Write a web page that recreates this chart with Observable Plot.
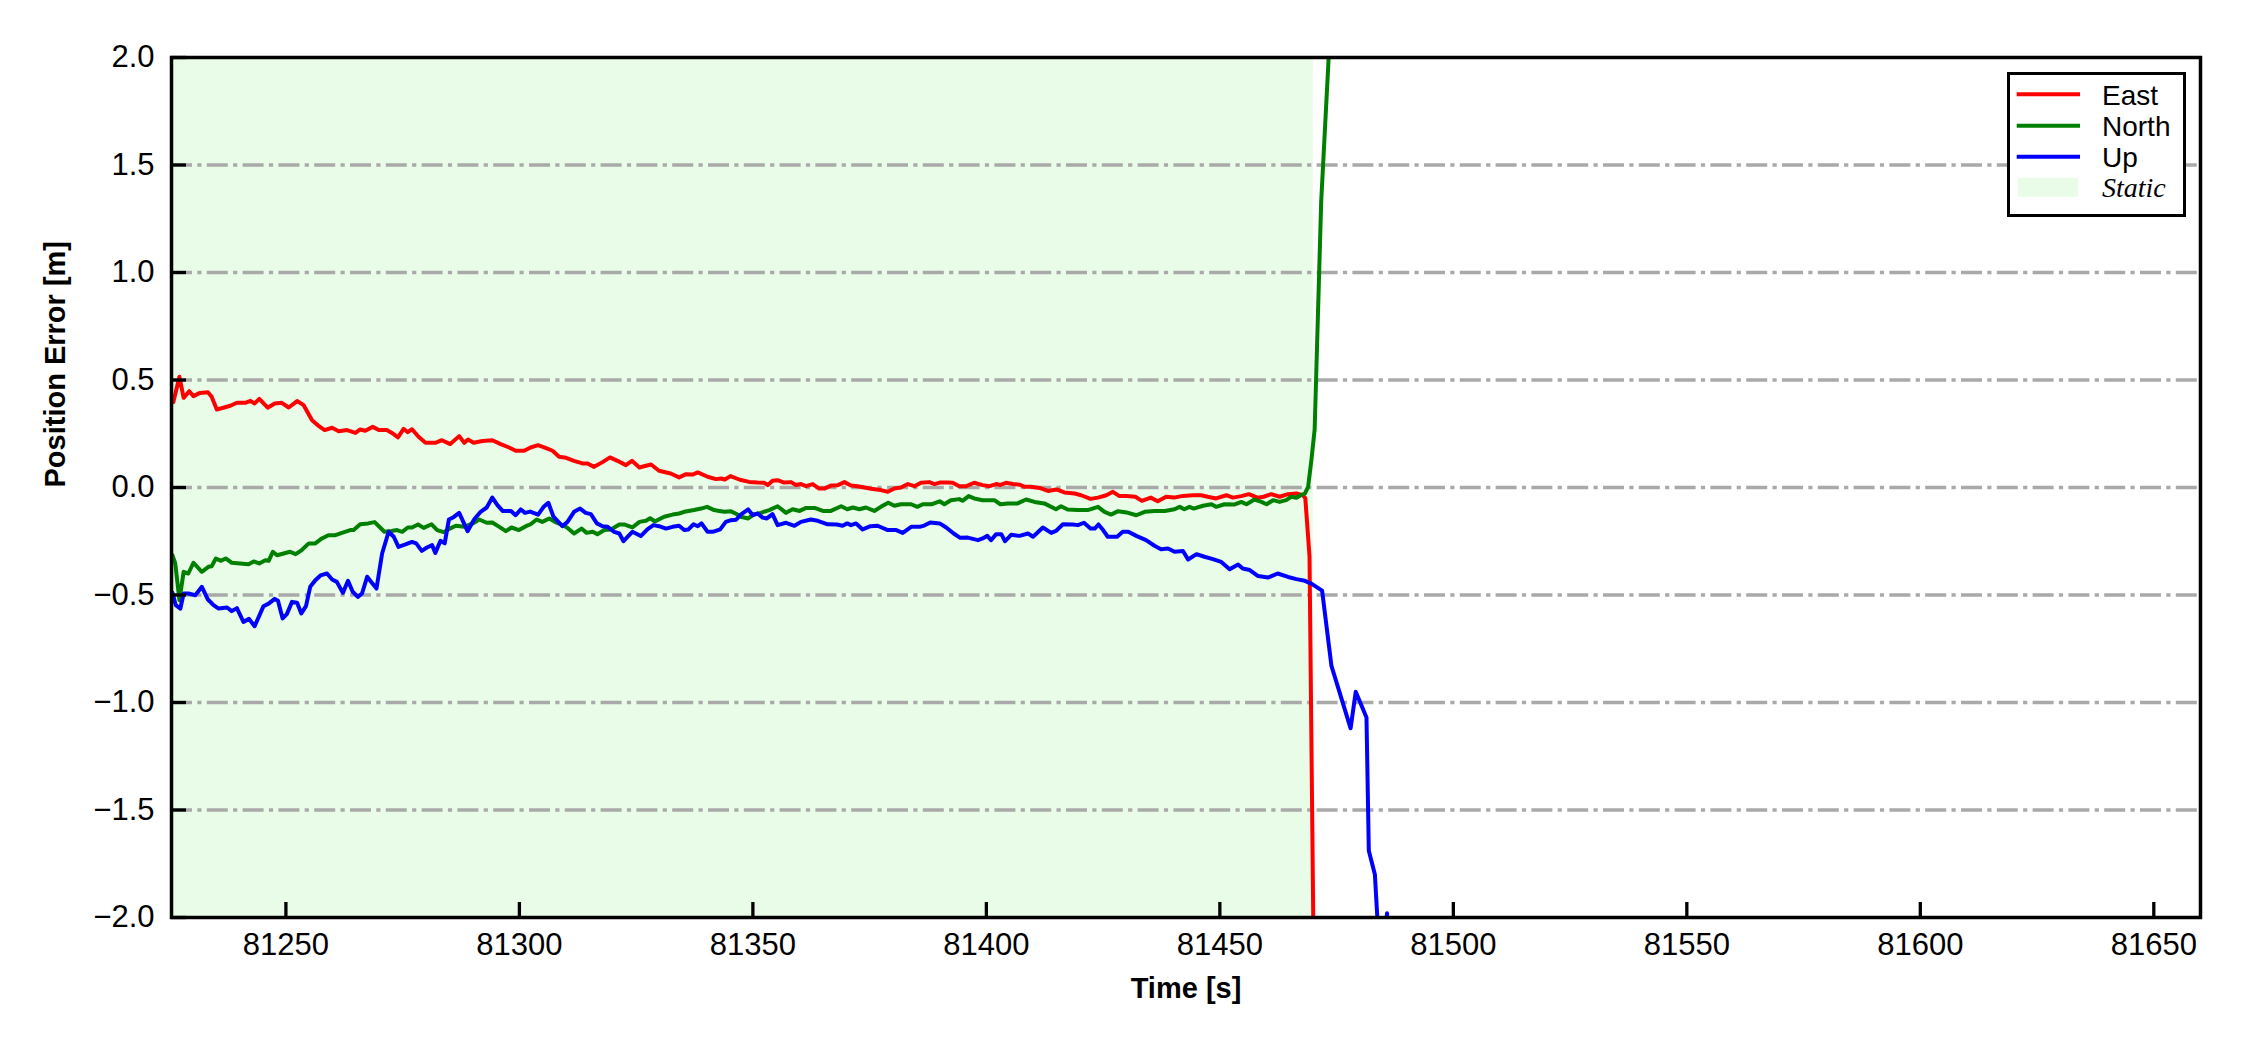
<!DOCTYPE html>
<html>
<head>
<meta charset="utf-8">
<script src="https://cdn.jsdelivr.net/npm/d3@7"></script>
<script src="https://cdn.jsdelivr.net/npm/@observablehq/plot@0.6"></script>
<style>
  html, body { margin: 0; padding: 0; background: white; }
  #wrap { position: relative; width: 2250px; height: 1050px; }
  #legend { position: absolute; left: 2007px; top: 72px; width: 173px; height: 139px; border: 3px solid black; background: white; }
</style>
</head>
<body>
<div id="wrap"></div>
<script>
// ---- data (time [s], error [m]) ----
const seriesNames = ["East", "North", "Up"];
const seriesColors = ["#ff0000", "#008000", "#0000ff"];
const staticLabel = "Static";
const staticColor = "#e8fce8";
const staticStart = 81225.5;
const staticEnd = 81470.0;
const xDomain = [81225.5, 81660];
const yDomain = [-2, 2];
const xTicks = [81250, 81300, 81350, 81400, 81450, 81500, 81550, 81600, 81650];
const yTicks = [-2.0, -1.5, -1.0, -0.5, 0.0, 0.5, 1.0, 1.5, 2.0];
const gridTicks = [-1.5, -1.0, -0.5, 0.0, 0.5, 1.0, 1.5];

const east = [[81225.5,0.40],[81225.9,0.398],[81227.2,0.515],[81228.1,0.417],[81229.3,0.448],[81230.2,0.425],[81231.6,0.440],[81233.3,0.443],[81234.1,0.422],[81235.2,0.363],[81236.6,0.371],[81238.1,0.380],[81239.5,0.394],[81241.3,0.394],[81242.4,0.403],[81243.3,0.391],[81244.3,0.412],[81246.1,0.371],[81247.6,0.391],[81249.1,0.394],[81250.6,0.372],[81252.4,0.402],[81253.8,0.383],[81255.6,0.313],[81256.9,0.288],[81258.3,0.267],[81259.9,0.278],[81261.3,0.262],[81263.1,0.267],[81264.9,0.254],[81265.9,0.270],[81267.0,0.264],[81268.6,0.282],[81269.9,0.267],[81271.6,0.267],[81272.7,0.254],[81274.0,0.233],[81275.2,0.273],[81276.1,0.257],[81277.0,0.271],[81278.4,0.236],[81279.9,0.208],[81282.0,0.208],[81283.4,0.220],[81285.2,0.202],[81287.1,0.239],[81288.2,0.208],[81289.0,0.223],[81290.2,0.208],[81292.1,0.216],[81294.2,0.220],[81296.0,0.202],[81297.8,0.186],[81299.2,0.171],[81301.0,0.171],[81302.4,0.186],[81304.0,0.197],[81306.0,0.181],[81307.1,0.171],[81308.5,0.143],[81310.0,0.138],[81311.7,0.124],[81313.5,0.112],[81314.6,0.112],[81316.0,0.096],[81317.8,0.118],[81319.4,0.140],[81321.0,0.124],[81322.8,0.104],[81324.1,0.124],[81325.7,0.093],[81326.7,0.099],[81328.2,0.107],[81329.9,0.078],[81332.4,0.065],[81334.2,0.047],[81335.7,0.062],[81337.1,0.060],[81338.2,0.070],[81340.3,0.050],[81342.1,0.039],[81343.2,0.042],[81344.0,0.037],[81345.2,0.053],[81347.2,0.036],[81349.2,0.026],[81351.0,0.023],[81352.4,0.022],[81353.2,0.012],[81354.2,0.031],[81355.3,0.034],[81356.7,0.023],[81358.2,0.025],[81359.2,0.012],[81360.3,0.016],[81361.4,0.006],[81362.8,0.016],[81364.2,-0.005],[81365.3,-0.005],[81366.7,0.009],[81368.2,0.011],[81369.6,0.025],[81371.0,0.009],[81372.4,0.006],[81373.9,0.0],[81375.3,-0.006],[81377.4,-0.012],[81378.9,-0.020],[81380.3,-0.005],[81381.7,0.0],[81383.2,0.016],[81384.6,0.006],[81386.0,0.022],[81387.8,0.025],[81388.9,0.016],[81390.0,0.023],[81391.7,0.023],[81392.8,0.022],[81394.2,0.006],[81395.7,0.006],[81397.4,0.022],[81399.2,0.011],[81400.7,0.006],[81402.1,0.016],[81403.0,0.012],[81404.2,0.022],[81405.7,0.016],[81407.2,0.013],[81408.2,0.003],[81409.6,0.003],[81411.4,-0.002],[81413.2,-0.016],[81415.0,-0.009],[81416.7,-0.023],[81418.9,-0.028],[81420.3,-0.036],[81422.3,-0.053],[81423.9,-0.047],[81425.7,-0.036],[81427.1,-0.020],[81428.5,-0.040],[81430.0,-0.039],[81431.9,-0.043],[81433.3,-0.062],[81435.2,-0.047],[81436.7,-0.064],[81438.5,-0.043],[81440.2,-0.047],[81442.1,-0.039],[81444.2,-0.036],[81446.0,-0.036],[81447.4,-0.043],[81449.2,-0.051],[81451.4,-0.036],[81452.8,-0.047],[81454.6,-0.040],[81456.2,-0.031],[81458.2,-0.048],[81459.4,-0.043],[81461.0,-0.031],[81462.8,-0.043],[81464.6,-0.031],[81466.4,-0.028],[81467.8,-0.036],[81468.3,-0.05],[81469.2,-0.32],[81470.0,-2.0],[81470.5,-3.0]];

const north = [[81225.5,-0.31],[81225.7,-0.315],[81226.3,-0.353],[81227.2,-0.524],[81228.1,-0.392],[81229.1,-0.400],[81230.2,-0.350],[81232.0,-0.392],[81233.4,-0.369],[81234.1,-0.366],[81235.0,-0.330],[81236.1,-0.341],[81237.1,-0.330],[81238.4,-0.350],[81240.2,-0.353],[81242.0,-0.357],[81243.1,-0.344],[81244.3,-0.353],[81245.6,-0.338],[81246.3,-0.341],[81247.2,-0.299],[81248.1,-0.315],[81249.5,-0.307],[81250.9,-0.299],[81252.1,-0.310],[81253.4,-0.291],[81254.9,-0.260],[81256.3,-0.260],[81257.7,-0.237],[81259.1,-0.222],[81260.6,-0.222],[81262.0,-0.211],[81263.8,-0.198],[81264.5,-0.198],[81265.9,-0.171],[81267.6,-0.167],[81269.0,-0.161],[81269.9,-0.180],[81271.1,-0.206],[81272.6,-0.202],[81273.8,-0.198],[81274.9,-0.206],[81276.1,-0.186],[81277.0,-0.186],[81278.3,-0.172],[81279.5,-0.188],[81281.2,-0.171],[81282.4,-0.198],[81283.8,-0.208],[81285.2,-0.19],[81286.4,-0.178],[81288.2,-0.183],[81290.0,-0.167],[81291.4,-0.149],[81293.0,-0.164],[81294.2,-0.163],[81295.7,-0.183],[81297.1,-0.203],[81298.3,-0.186],[81299.9,-0.198],[81301.4,-0.180],[81302.4,-0.171],[81303.7,-0.149],[81304.9,-0.160],[81306.4,-0.144],[81307.6,-0.160],[81308.9,-0.172],[81310.2,-0.186],[81311.7,-0.214],[81313.3,-0.191],[81314.4,-0.211],[81315.7,-0.206],[81316.7,-0.217],[81318.2,-0.198],[81319.6,-0.195],[81321.4,-0.172],[81322.4,-0.172],[81324.2,-0.186],[81325.7,-0.160],[81327.1,-0.155],[81328.0,-0.143],[81329.0,-0.158],[81331.0,-0.136],[81332.8,-0.126],[81334.2,-0.121],[81335.3,-0.113],[81337.4,-0.105],[81338.9,-0.098],[81340.2,-0.090],[81341.7,-0.105],[81342.8,-0.109],[81343.9,-0.113],[81345.3,-0.111],[81346.4,-0.122],[81347.4,-0.136],[81349.0,-0.144],[81350.3,-0.124],[81351.7,-0.118],[81353.5,-0.105],[81355.3,-0.087],[81357.1,-0.118],[81358.5,-0.101],[81360.0,-0.109],[81361.4,-0.095],[81363.2,-0.095],[81365.0,-0.109],[81366.7,-0.109],[81368.9,-0.087],[81370.2,-0.101],[81371.4,-0.093],[81372.8,-0.101],[81374.2,-0.093],[81376.0,-0.109],[81377.4,-0.090],[81379.0,-0.071],[81380.3,-0.085],[81381.7,-0.078],[81383.9,-0.078],[81385.2,-0.090],[81386.4,-0.078],[81388.2,-0.078],[81390.0,-0.064],[81391.0,-0.078],[81392.4,-0.059],[81394.2,-0.054],[81394.9,-0.062],[81396.2,-0.040],[81397.4,-0.051],[81399.2,-0.059],[81401.7,-0.059],[81403.0,-0.078],[81404.6,-0.074],[81406.7,-0.074],[81408.5,-0.056],[81410.3,-0.067],[81412.4,-0.074],[81414.9,-0.101],[81416.0,-0.087],[81417.4,-0.102],[81419.6,-0.105],[81421.7,-0.105],[81423.9,-0.090],[81425.3,-0.113],[81426.7,-0.126],[81428.2,-0.110],[81430.0,-0.116],[81432.1,-0.129],[81433.9,-0.113],[81436.0,-0.109],[81438.2,-0.109],[81440.3,-0.101],[81441.4,-0.090],[81442.4,-0.101],[81443.5,-0.090],[81444.4,-0.098],[81446.4,-0.085],[81448.2,-0.078],[81449.2,-0.090],[81451.0,-0.078],[81453.2,-0.079],[81454.6,-0.067],[81455.7,-0.078],[81457.4,-0.056],[81458.9,-0.067],[81460.0,-0.078],[81461.4,-0.059],[81462.8,-0.067],[81464.2,-0.059],[81465.3,-0.043],[81466.4,-0.048],[81467.3,-0.036],[81468.2,-0.028],[81468.9,0.003],[81469.6,0.127],[81470.3,0.27],[81471.7,1.33],[81473.3,2.0],[81474.5,2.5]];

const up = [[81225.5,-0.49],[81225.7,-0.490],[81226.4,-0.547],[81227.4,-0.563],[81228.1,-0.493],[81229.1,-0.493],[81230.6,-0.501],[81232.0,-0.462],[81233.3,-0.521],[81234.5,-0.547],[81235.6,-0.563],[81237.4,-0.558],[81238.4,-0.575],[81239.5,-0.561],[81240.9,-0.625],[81242.1,-0.611],[81243.3,-0.645],[81245.2,-0.552],[81246.3,-0.540],[81247.6,-0.518],[81248.3,-0.527],[81249.3,-0.609],[81250.2,-0.589],[81251.3,-0.532],[81252.4,-0.536],[81253.3,-0.586],[81254.3,-0.552],[81255.2,-0.462],[81256.3,-0.431],[81257.4,-0.409],[81258.8,-0.400],[81259.9,-0.428],[81260.9,-0.439],[81262.2,-0.490],[81263.3,-0.434],[81264.3,-0.485],[81265.4,-0.509],[81266.3,-0.493],[81267.4,-0.415],[81268.4,-0.443],[81269.4,-0.470],[81270.6,-0.307],[81272.0,-0.206],[81273.1,-0.229],[81274.1,-0.276],[81275.6,-0.265],[81277.0,-0.253],[81277.9,-0.260],[81279.1,-0.295],[81280.2,-0.279],[81281.3,-0.268],[81282.0,-0.304],[81283.1,-0.248],[81284.0,-0.260],[81284.9,-0.149],[81285.9,-0.138],[81287.1,-0.118],[81288.9,-0.203],[81290.3,-0.149],[81291.7,-0.113],[81293.0,-0.093],[81294.2,-0.047],[81295.3,-0.082],[81296.4,-0.109],[81298.2,-0.109],[81299.2,-0.129],[81300.3,-0.102],[81301.2,-0.118],[81302.3,-0.112],[81304.0,-0.126],[81305.2,-0.090],[81306.2,-0.071],[81307.3,-0.136],[81309.2,-0.180],[81310.3,-0.160],[81311.7,-0.113],[81313.0,-0.098],[81314.2,-0.118],[81315.3,-0.124],[81316.6,-0.167],[81317.8,-0.180],[81318.9,-0.183],[81320.3,-0.206],[81321.4,-0.214],[81322.3,-0.250],[81323.2,-0.229],[81324.2,-0.206],[81326.0,-0.226],[81327.4,-0.195],[81328.7,-0.175],[81329.9,-0.180],[81331.4,-0.191],[81332.8,-0.183],[81334.2,-0.178],[81335.3,-0.198],[81336.2,-0.195],[81337.3,-0.171],[81338.2,-0.180],[81339.0,-0.167],[81340.3,-0.206],[81341.4,-0.206],[81343.0,-0.195],[81344.2,-0.160],[81345.3,-0.152],[81346.4,-0.150],[81347.4,-0.126],[81349.0,-0.102],[81350.0,-0.129],[81351.0,-0.121],[81352.1,-0.140],[81353.0,-0.144],[81354.2,-0.124],[81355.3,-0.175],[81357.1,-0.164],[81358.9,-0.178],[81360.3,-0.160],[81362.4,-0.149],[81363.9,-0.155],[81366.0,-0.171],[81368.0,-0.172],[81369.2,-0.178],[81370.2,-0.167],[81371.0,-0.175],[81372.1,-0.167],[81373.5,-0.195],[81375.2,-0.180],[81376.7,-0.178],[81378.9,-0.198],[81380.7,-0.198],[81382.1,-0.211],[81383.9,-0.183],[81385.7,-0.183],[81386.7,-0.177],[81388.0,-0.163],[81390.0,-0.167],[81391.4,-0.186],[81393.0,-0.214],[81394.4,-0.234],[81396.0,-0.233],[81398.2,-0.245],[81399.2,-0.237],[81400.2,-0.225],[81401.0,-0.245],[81402.1,-0.217],[81403.2,-0.217],[81404.0,-0.250],[81405.3,-0.220],[81407.1,-0.225],[81408.9,-0.214],[81410.0,-0.229],[81412.1,-0.186],[81413.9,-0.211],[81414.9,-0.202],[81416.4,-0.171],[81418.5,-0.172],[81419.6,-0.175],[81420.9,-0.164],[81422.3,-0.191],[81423.2,-0.191],[81424.0,-0.172],[81425.0,-0.198],[81426.0,-0.229],[81428.0,-0.229],[81429.2,-0.206],[81430.4,-0.206],[81432.1,-0.225],[81434.2,-0.245],[81436.0,-0.271],[81437.4,-0.287],[81438.9,-0.284],[81440.3,-0.299],[81442.1,-0.295],[81443.2,-0.335],[81445.0,-0.310],[81446.7,-0.322],[81448.5,-0.333],[81450.3,-0.346],[81452.1,-0.380],[81453.9,-0.358],[81454.9,-0.377],[81456.4,-0.384],[81458.2,-0.412],[81460.3,-0.419],[81462.4,-0.400],[81464.6,-0.416],[81466.4,-0.426],[81468.2,-0.434],[81469.6,-0.447],[81471.9,-0.48],[81473.9,-0.83],[81478.0,-1.12],[81479.1,-0.95],[81481.4,-1.07],[81481.9,-1.69],[81483.2,-1.80],[81484.5,-2.3],[81485.8,-1.98],[81486.6,-2.5]];

const seriesData = [east, north, up];
const xLabel = "Time [s]";
const yLabel = "Position Error [m]";

// ---- chart ----
const W = 2250, H = 1050;
const mL = 171, mR = 50, mT = 57, mB = 133;
const frameW = W - mL - mR, frameH = H - mT - mB;
const tickLen = 15;
const font = "'Liberation Sans', Arial, Helvetica, sans-serif";

const lineMarks = seriesData.map((s, i) =>
  Plot.line(s, {x: d => d[0], y: d => d[1], stroke: seriesColors[i], strokeWidth: 4, clip: true, strokeLinejoin: "round"})
);

const chart = Plot.plot({
  width: W, height: H,
  marginLeft: mL, marginRight: mR, marginTop: mT, marginBottom: mB,
  style: {fontFamily: font, fontSize: "31px", background: "white", color: "black", overflow: "visible"},
  x: {domain: xDomain},
  y: {domain: yDomain},
  marks: [
    Plot.rect([{start: staticStart, end: staticEnd}], {x1: "start", x2: "end", fill: staticColor, clip: true}),
    Plot.gridY(gridTicks, {stroke: "#a9a9a9", strokeOpacity: 1, strokeWidth: 3.3, strokeDasharray: "21,5.3,4.2,5.3"}),
    ...lineMarks,
    Plot.tickX(xTicks, {x: d => d, stroke: "black", strokeWidth: 3.3, insetTop: frameH - tickLen}),
    Plot.tickY(yTicks, {y: d => d, stroke: "black", strokeWidth: 3.3, insetRight: frameW - tickLen}),
    Plot.frame({stroke: "black", strokeWidth: 3.5}),
    Plot.axisX(xTicks, {tickSize: 0, tickPadding: 15, tickFormat: d3.format("d"), label: null, fontSize: 31}),
    Plot.axisY(yTicks, {tickSize: 0, tickPadding: 17, tickFormat: d3.format(".1f"), label: null, fontSize: 31}),
    Plot.text([xLabel], {text: d => d, frameAnchor: "bottom", dy: 80, fontWeight: "bold", fontSize: 29}),
    Plot.text([yLabel], {text: d => d, frameAnchor: "left", dx: -116, rotate: -90, fontWeight: "bold", fontSize: 29})
  ]
});

const wrap = document.getElementById("wrap");
wrap.appendChild(chart);

// ---- legend (HTML/SVG overlay, text kept as text) ----
const legend = document.createElement("div");
legend.id = "legend";
const ns = "http://www.w3.org/2000/svg";
const lsvg = document.createElementNS(ns, "svg");
lsvg.setAttribute("width", 173);
lsvg.setAttribute("height", 139);
const rowY = [19.3, 50.7, 81.7];
seriesNames.forEach((name, i) => {
  const ln = document.createElementNS(ns, "line");
  ln.setAttribute("x1", 6.7); ln.setAttribute("x2", 70);
  ln.setAttribute("y1", rowY[i]); ln.setAttribute("y2", rowY[i]);
  ln.setAttribute("stroke", seriesColors[i]); ln.setAttribute("stroke-width", 4);
  lsvg.appendChild(ln);
  const tx = document.createElementNS(ns, "text");
  tx.setAttribute("x", 92); tx.setAttribute("y", rowY[i] + 10.3);
  tx.setAttribute("font-family", font); tx.setAttribute("font-size", 28);
  tx.textContent = name;
  lsvg.appendChild(tx);
});
const patch = document.createElementNS(ns, "rect");
patch.setAttribute("x", 8); patch.setAttribute("y", 102.7);
patch.setAttribute("width", 60); patch.setAttribute("height", 19);
patch.setAttribute("fill", staticColor);
lsvg.appendChild(patch);
const st = document.createElementNS(ns, "text");
st.setAttribute("x", 92); st.setAttribute("y", 121.7);
st.setAttribute("font-family", "'Liberation Serif', 'Times New Roman', serif");
st.setAttribute("font-style", "italic");
st.setAttribute("font-size", 28);
st.textContent = staticLabel;
lsvg.appendChild(st);
legend.appendChild(lsvg);
wrap.appendChild(legend);
</script>
</body>
</html>
